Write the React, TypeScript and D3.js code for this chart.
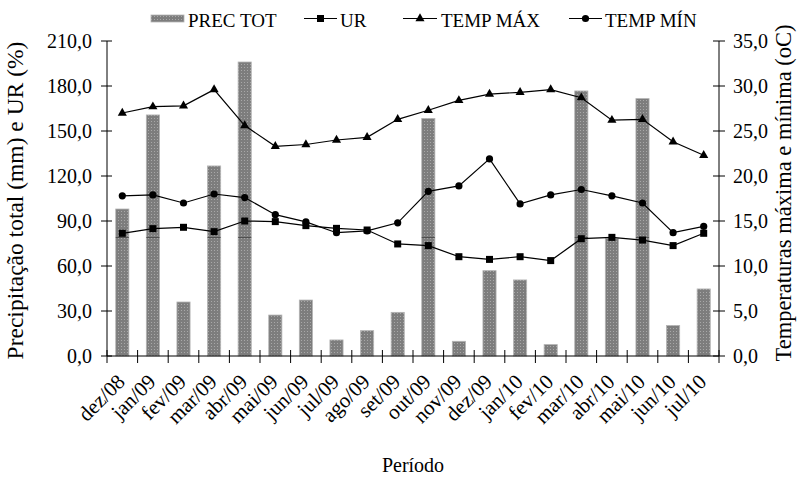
import * as d3 from 'd3'

// Period (months)
const months = [
  'dez/08', 'jan/09', 'fev/09', 'mar/09', 'abr/09', 'mai/09', 'jun/09',
  'jul/09', 'ago/09', 'set/09', 'out/09', 'nov/09', 'dez/09', 'jan/10',
  'fev/10', 'mar/10', 'abr/10', 'mai/10', 'jun/10', 'jul/10',
]

// Total precipitation (mm), left axis
const precTot = [
  98.0, 160.7, 36.0, 126.7, 196.0, 27.3, 37.3, 10.7, 16.9, 29.1,
  158.4, 9.8, 56.9, 50.7, 7.6, 176.7, 78.4, 171.6, 20.4, 44.7,
]

// Relative humidity (%), left axis
const ur = [
  81.8, 84.9, 85.8, 82.9, 90.0, 89.6, 86.9, 85.1, 84.0, 74.7,
  73.6, 66.2, 64.4, 66.2, 63.6, 78.2, 79.1, 77.3, 73.6, 81.8,
]

// Max temperature (oC), right axis
const tempMax = [
  27.0, 27.7, 27.8, 29.6, 25.6, 23.3, 23.5, 24.0, 24.3, 26.3,
  27.3, 28.4, 29.1, 29.3, 29.6, 28.7, 26.2, 26.3, 23.8, 22.3,
]

// Min temperature (oC), right axis
const tempMin = [
  17.8, 17.9, 17.0, 18.0, 17.6, 15.7, 14.9, 13.7, 13.9, 14.8,
  18.3, 18.9, 21.9, 16.9, 17.9, 18.5, 17.8, 17.0, 13.7, 14.4,
]

const leftTicks = [0, 30, 60, 90, 120, 150, 180, 210]
const rightTicks = [0, 5, 10, 15, 20, 25, 30, 35]

const width = 797
const height = 477
const margin = { top: 41, right: 78, bottom: 121, left: 107 }
const font = "'Liberation Serif', 'DejaVu Serif', serif"

const fmt = (v: number) => d3.format('.1f')(v).replace('.', ',')

export default function App() {
  const x = d3
    .scaleBand()
    .domain(months)
    .range([margin.left, width - margin.right])
    .paddingInner(0.57)
    .paddingOuter(0.285)
  const yL = d3.scaleLinear().domain([0, 210]).range([height - margin.bottom, margin.top])
  const yR = d3.scaleLinear().domain([0, 35]).range([height - margin.bottom, margin.top])

  const cx = (i: number) => (x(months[i]) ?? 0) + x.bandwidth() / 2
  const x0 = margin.left
  const x1 = width - margin.right
  const y0 = height - margin.bottom
  const y1 = margin.top

  const lineL = d3.line<number>().x((_, i) => cx(i)).y(d => yL(d))
  const lineR = d3.line<number>().x((_, i) => cx(i)).y(d => yR(d))
  const tri = d3.symbol(d3.symbolTriangle, 36)()

  const boundaries = d3.range(months.length + 1).map(i => x0 + i * x.step())

  return (
    <svg
      width={width}
      height={height}
      style={{ position: 'absolute', left: 0, top: 0, background: '#fff', fontFamily: font }}
    >
      <defs>
        <pattern id="dots" width="3" height="3" patternUnits="userSpaceOnUse">
          <rect width="3" height="3" fill="#7d7d7d" />
          <rect x="1" y="1" width="1" height="1" fill="#a8a8a8" />
        </pattern>
      </defs>

      {/* bars */}
      {precTot.map((v, i) => (
        <rect
          key={'b' + i}
          x={x(months[i])}
          y={yL(v)}
          width={x.bandwidth()}
          height={y0 - yL(v)}
          fill="url(#dots)"
          stroke="#b4b4b4"
          strokeWidth={0.8}
        />
      ))}
      {precTot.map((v, i) =>
        v > 79 ? (
          <line
            key={'g' + i}
            x1={x(months[i])}
            x2={(x(months[i]) ?? 0) + x.bandwidth()}
            y1={yL(79)}
            y2={yL(79)}
            stroke="#444"
            strokeWidth={0.8}
          />
        ) : null
      )}

      {/* axes */}
      <g stroke="#000" strokeWidth={1}>
        <line x1={x0} x2={x1} y1={y0} y2={y0} />
        <line x1={x0} x2={x0} y1={y1} y2={y0} />
        <line x1={x1} x2={x1} y1={y1} y2={y0} />
        {boundaries.map((b, i) => (
          <line key={'xt' + i} x1={b} x2={b} y1={y0 - 6} y2={y0 + 7} />
        ))}
        {leftTicks.map(t => (
          <line key={'lt' + t} x1={x0 - 6} x2={x0 + 5} y1={yL(t)} y2={yL(t)} />
        ))}
        {rightTicks.map(t => (
          <line key={'rt' + t} x1={x1 - 6} x2={x1 + 6} y1={yR(t)} y2={yR(t)} />
        ))}
      </g>

      <g fontSize={20} fill="#000">
        {leftTicks.map(t => (
          <text key={'ll' + t} x={x0 - 15} y={yL(t)} dy="0.35em" textAnchor="end">
            {fmt(t)}
          </text>
        ))}
        {rightTicks.map(t => (
          <text key={'rl' + t} x={x1 + 14} y={yR(t)} dy="0.35em">
            {fmt(t)}
          </text>
        ))}
        {months.map((m, i) => (
          <text
            key={'xl' + i}
            fontSize={21}
            transform={`translate(${cx(i) + 4},${y0 + 27}) rotate(-45)`}
            textAnchor="end"
          >
            {m}
          </text>
        ))}
        <text x={(x0 + x1) / 2} y={472} textAnchor="middle">
          Período
        </text>
      </g>

      <text
        fontSize={23.5}
        transform={`translate(23,${(y0 + y1) / 2 + 2}) rotate(-90)`}
        textAnchor="middle"
      >
        Precipitação total (mm) e UR (%)
      </text>
      <text
        fontSize={22.5}
        transform={`translate(791,${193}) rotate(-90)`}
        textAnchor="middle"
      >
        Temperaturas máxima e mínima (oC)
      </text>

      {/* lines */}
      <g fill="none" stroke="#000" strokeWidth={1.2}>
        <path d={lineL(ur) ?? ''} />
        <path d={lineR(tempMax) ?? ''} />
        <path d={lineR(tempMin) ?? ''} />
      </g>
      {ur.map((v, i) => (
        <rect key={'s' + i} x={cx(i) - 3.5} y={yL(v) - 3.5} width={7} height={7} fill="#000" />
      ))}
      {tempMax.map((v, i) => (
        <path key={'t' + i} d={tri ?? ''} transform={`translate(${cx(i)},${yR(v)})`} fill="#000" />
      ))}
      {tempMin.map((v, i) => (
        <circle key={'c' + i} cx={cx(i)} cy={yR(v)} r={3.6} fill="#000" />
      ))}

      {/* legend */}
      <g fontSize={19}>
        <rect x={151} y={15} width={33} height={7} fill="url(#dots)" stroke="#b4b4b4" strokeWidth={0.8} />
        <text x={188} y={26.5}>PREC TOT</text>

        <line x1={304} x2={337} y1={18.5} y2={18.5} stroke="#000" strokeWidth={1.2} />
        <rect x={317} y={15} width={7} height={7} fill="#000" />
        <text x={340} y={26.5}>UR</text>

        <line x1={403} x2={437} y1={18.5} y2={18.5} stroke="#000" strokeWidth={1.2} />
        <path d={tri ?? ''} transform="translate(420,18.5)" fill="#000" />
        <text x={441} y={26.5}>TEMP MÁX</text>

        <line x1={569} x2={602} y1={18.5} y2={18.5} stroke="#000" strokeWidth={1.2} />
        <circle cx={585.5} cy={18.5} r={3.6} fill="#000" />
        <text x={605} y={26.5}>TEMP MÍN</text>
      </g>
    </svg>
  )
}
